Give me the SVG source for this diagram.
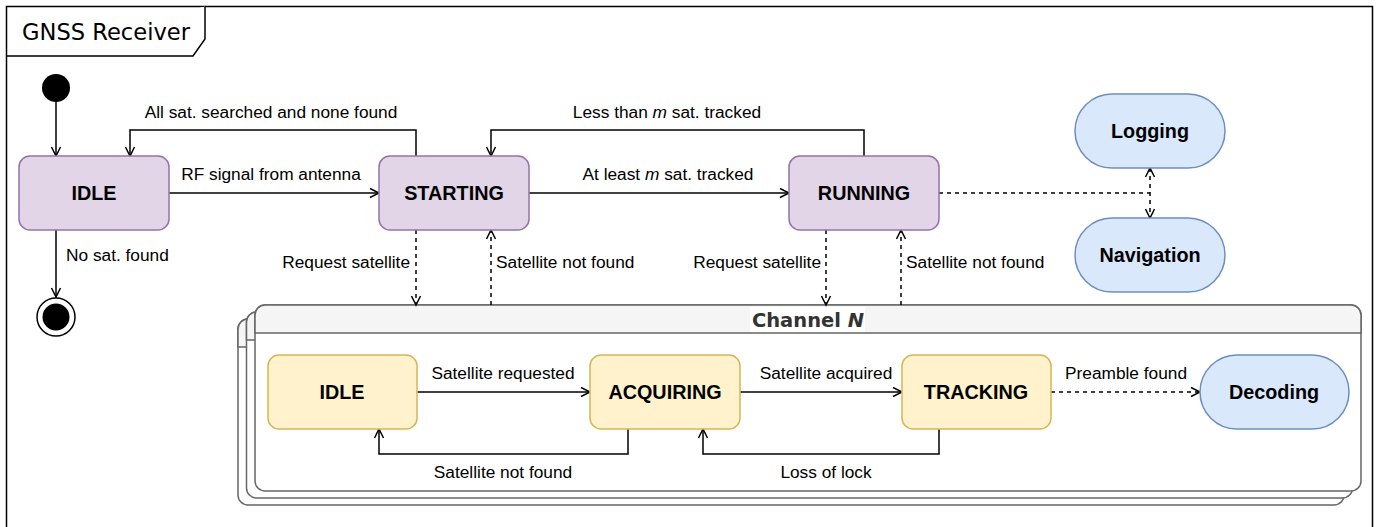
<svg xmlns="http://www.w3.org/2000/svg" width="1379" height="527" viewBox="0 0 1379 527">
<style>
.lbl{font-family:"Liberation Sans",Arial,sans-serif;font-size:17.3px;fill:#000}
.nt{font-family:"Liberation Sans",Arial,sans-serif;font-size:19.8px;font-weight:bold;fill:#000;text-anchor:middle;dominant-baseline:central}
.purple{fill:#e1d5e7;stroke:#9673a6;stroke-width:1.5}
.yellow{fill:#fff2cc;stroke:#d6b656;stroke-width:1.5}
.blue{fill:#dae8fc;stroke:#6c8ebf;stroke-width:1.5}
.e{fill:none;stroke:#000;stroke-width:1.5}
.d{stroke-dasharray:4 4}
.mid{text-anchor:middle}
.end{text-anchor:end}
</style>
<defs>
<marker id="arr" viewBox="-10 -6 12 12" refX="0" refY="0" markerWidth="12" markerHeight="12" markerUnits="userSpaceOnUse" orient="auto">
<path d="M-9,-4.5 L0,0 L-9,4.5" fill="none" stroke="#000" stroke-width="1.5"/>
</marker>
<marker id="arrs" viewBox="-10 -6 12 12" refX="0" refY="0" markerWidth="12" markerHeight="12" markerUnits="userSpaceOnUse" orient="auto-start-reverse">
<path d="M-9,-4.5 L0,0 L-9,4.5" fill="none" stroke="#000" stroke-width="1.5"/>
</marker>
<g id="chframe">
<rect x="0" y="0" width="1106" height="186" rx="10" fill="#fff" stroke="#666" stroke-width="1.5"/>
<path d="M0,28 V10 A10,10 0 0 1 10,0 H1096 A10,10 0 0 1 1106,10 V28 Z" fill="#f5f5f5" stroke="#666" stroke-width="1.5"/>
</g>
</defs>
<rect x="0" y="0" width="1379" height="527" fill="#fff"/>

<g id="frame">
<rect x="6.5" y="6.5" width="1366" height="540" fill="none" stroke="#000" stroke-width="1.5"/>
<path d="M6.5,56 H193 L205,39 V6.5" fill="#fff" stroke="#000" stroke-width="1.5"/>
<text x="22" y="40" style="font-family:'DejaVu Sans',Verdana,sans-serif;font-size:22.6px;fill:#000">GNSS Receiver</text>
</g>

<g id="channel">
<use href="#chframe" transform="translate(238,319)"/>
<use href="#chframe" transform="translate(246.5,312)"/>
<use href="#chframe" transform="translate(255,305)"/>
<rect x="750" y="307" width="115" height="25" fill="#fff"/>
<text x="808" y="320" style="font-family:'DejaVu Sans',Verdana,sans-serif;font-size:19.5px;font-weight:bold;fill:#333;text-anchor:middle;dominant-baseline:central">Channel <tspan font-style="italic">N</tspan></text>
</g>

<g id="connectors">
<path class="e" d="M56,102 V156" marker-end="url(#arr)"/>
<path class="e" d="M56,230 V297" marker-end="url(#arr)"/>
<path class="e" d="M169,193 H379" marker-end="url(#arr)"/>
<path class="e" d="M416,156 V130 H130 V156" marker-end="url(#arr)"/>
<path class="e" d="M529,193 H789" marker-end="url(#arr)"/>
<path class="e" d="M864,156 V130 H491 V156" marker-end="url(#arr)"/>
<path class="e d" d="M416,230 V305" marker-end="url(#arr)"/>
<path class="e d" d="M491,305 V230" marker-end="url(#arr)"/>
<path class="e d" d="M826,230 V305" marker-end="url(#arr)"/>
<path class="e d" d="M901,305 V230" marker-end="url(#arr)"/>
<path class="e d" d="M939,193 H1150"/>
<path class="e d" d="M1150,168 V218" marker-start="url(#arrs)" marker-end="url(#arr)"/>
<path class="e" d="M417,392 H590" marker-end="url(#arr)"/>
<path class="e" d="M628,429 V454 H379 V429" marker-end="url(#arr)"/>
<path class="e" d="M740,392 H902" marker-end="url(#arr)"/>
<path class="e" d="M939,429 V454 H703 V429" marker-end="url(#arr)"/>
<path class="e d" d="M1051,392 H1200" marker-end="url(#arr)"/>

<text class="lbl mid" x="271" y="118">All sat. searched and none found</text>
<text class="lbl mid" x="271" y="180">RF signal from antenna</text>
<text class="lbl" x="66" y="261">No sat. found</text>
<text class="lbl mid" x="667" y="118">Less than <tspan font-style="italic">m</tspan> sat. tracked</text>
<text class="lbl mid" x="668" y="180">At least <tspan font-style="italic">m</tspan> sat. tracked</text>
<text class="lbl end" x="410" y="268">Request satellite</text>
<text class="lbl" x="496" y="268">Satellite not found</text>
<text class="lbl end" x="821" y="268">Request satellite</text>
<text class="lbl" x="906" y="268">Satellite not found</text>
<text class="lbl mid" x="503" y="379">Satellite requested</text>
<text class="lbl mid" x="503" y="478">Satellite not found</text>
<text class="lbl mid" x="826" y="379">Satellite acquired</text>
<text class="lbl mid" x="826" y="478">Loss of lock</text>
<text class="lbl mid" x="1126" y="379">Preamble found</text>
</g>

<g id="initial"><circle cx="56" cy="88" r="14" fill="#000"/></g>
<g id="final">
<circle cx="56" cy="317" r="19" fill="#fff" stroke="#000" stroke-width="1.5"/>
<circle cx="56" cy="317" r="13.5" fill="#000"/>
</g>
<g id="idle"><rect class="purple" x="19" y="156" width="150" height="74" rx="11"/><text class="nt" x="94" y="193">IDLE</text></g>
<g id="starting"><rect class="purple" x="379" y="156" width="150" height="74" rx="11"/><text class="nt" x="454" y="193">STARTING</text></g>
<g id="running"><rect class="purple" x="789" y="156" width="150" height="74" rx="11"/><text class="nt" x="864" y="193">RUNNING</text></g>
<g id="logging"><rect class="blue" x="1075" y="94" width="150" height="74" rx="37"/><text class="nt" x="1150" y="131">Logging</text></g>
<g id="navigation"><rect class="blue" x="1075" y="218" width="150" height="74" rx="37"/><text class="nt" x="1150" y="255">Navigation</text></g>
<g id="ch-idle"><rect class="yellow" x="268" y="355" width="149" height="74" rx="11"/><text class="nt" x="342" y="392">IDLE</text></g>
<g id="acquiring"><rect class="yellow" x="590" y="355" width="150" height="74" rx="11"/><text class="nt" x="665" y="392">ACQUIRING</text></g>
<g id="tracking"><rect class="yellow" x="902" y="355" width="149" height="74" rx="11"/><text class="nt" x="976" y="392">TRACKING</text></g>
<g id="decoding"><rect class="blue" x="1200" y="355" width="149" height="74" rx="37"/><text class="nt" x="1274" y="392">Decoding</text></g>
</svg>
